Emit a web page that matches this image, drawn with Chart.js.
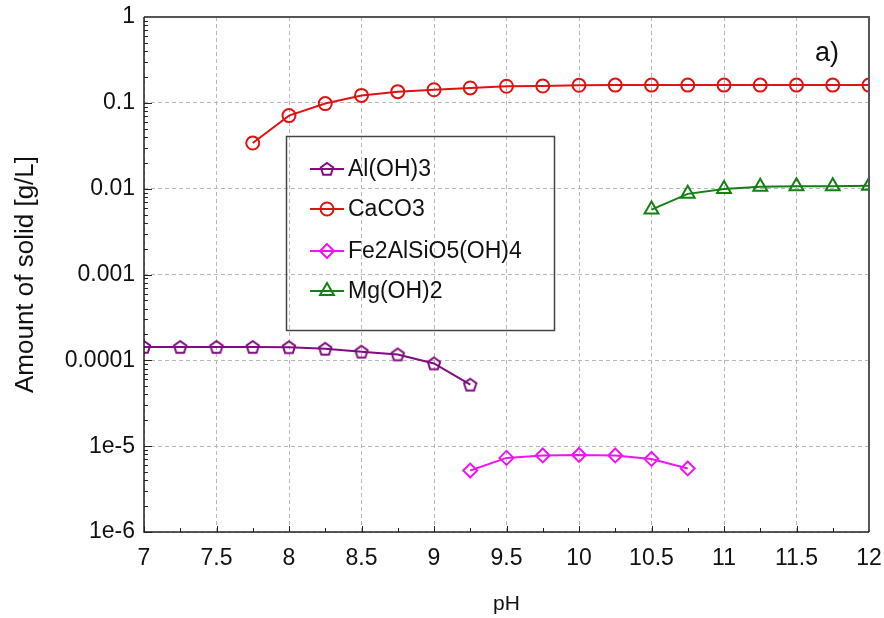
<!DOCTYPE html>
<html>
<head>
<meta charset="utf-8">
<script src="https://cdn.jsdelivr.net/npm/chart.js@4/dist/chart.umd.min.js"></script>
<style>
  html, body { margin: 0; padding: 0; background: #fff; }
  #wrap { width: 884px; height: 618px; }
</style>
</head>
<body>
<div id="wrap"><canvas id="chart" width="884" height="618"></canvas></div>
<script>
// axis ticks
const xTicks = [7, 7.5, 8, 8.5, 9, 9.5, 10, 10.5, 11, 11.5, 12];
const xTickLabels = ['7', '7.5', '8', '8.5', '9', '9.5', '10', '10.5', '11', '11.5', '12'];
const yTicks = [1e-6, 1e-5, 1e-4, 1e-3, 0.01, 0.1, 1];
const yTickLabels = ['1e-6', '1e-5', '0.0001', '0.001', '0.01', '0.1', '1'];

// series (pH vs amount of solid, g/L)
const seriesNames = ['Al(OH)3', 'CaCO3', 'Fe2AlSiO5(OH)4', 'Mg(OH)2'];

const alPH = [7, 7.25, 7.5, 7.75, 8, 8.25, 8.5, 8.75, 9, 9.25];
const alAmount = [1.43e-4, 1.43e-4, 1.43e-4, 1.43e-4, 1.42e-4, 1.36e-4, 1.26e-4, 1.17e-4, 0.92e-4, 0.52e-4];

const caPH = [7.75, 8, 8.25, 8.5, 8.75, 9, 9.25, 9.5, 9.75, 10, 10.25, 10.5, 10.75, 11, 11.25, 11.5, 11.75, 12];
const caAmount = [0.034, 0.071, 0.098, 0.122, 0.135, 0.142, 0.149, 0.156, 0.157, 0.16, 0.161, 0.161, 0.161, 0.161, 0.161, 0.161, 0.161, 0.161];

const fePH = [9.25, 9.5, 9.75, 10, 10.25, 10.5, 10.75];
const feAmount = [5.2e-6, 7.3e-6, 7.8e-6, 7.9e-6, 7.8e-6, 7.1e-6, 5.5e-6];

const mgPH = [10.5, 10.75, 11, 11.25, 11.5, 11.75, 12];
const mgAmount = [0.0057, 0.0087, 0.0099, 0.0105, 0.0107, 0.0107, 0.0108];

const FONT = "'Liberation Sans', Arial, sans-serif";
const colors = ['#800c80', '#e01212', '#ee16ee', '#128012'];

function toPoints(xs, ys) {
  return xs.map((x, i) => ({ x: x, y: ys[i] }));
}

// pentagon marker (not built into Chart.js)
function makePentagon(color) {
  const c = document.createElement('canvas');
  c.width = 18;
  c.height = 18;
  const g = c.getContext('2d');
  g.strokeStyle = color;
  g.lineWidth = 2;
  g.beginPath();
  for (let i = 0; i < 5; i++) {
    const a = -Math.PI / 2 + i * 2 * Math.PI / 5;
    const px = 9 + 6.5 * Math.cos(a);
    const py = 9.5 + 6.5 * Math.sin(a);
    if (i === 0) g.moveTo(px, py); else g.lineTo(px, py);
  }
  g.closePath();
  g.stroke();
  return c;
}
const pentagon = makePentagon(colors[0]);

const pointStyles = [pentagon, 'circle', 'rectRot', 'triangle'];
const pointRadii = [7, 6.5, 7, 8];

function dataset(i, xs, ys) {
  return {
    label: seriesNames[i],
    data: toPoints(xs, ys),
    borderColor: colors[i],
    backgroundColor: 'rgba(0,0,0,0)',
    borderWidth: 2,
    pointStyle: pointStyles[i],
    pointRadius: pointRadii[i],
    pointBorderWidth: 2,
    pointBorderColor: colors[i],
    pointBackgroundColor: 'rgba(0,0,0,0)',
    tension: 0
  };
}

// frame around plot + inward ticks
const frameAndTicks = {
  id: 'frameAndTicks',
  afterDraw(chart) {
    const { ctx, chartArea: a, scales } = chart;
    const x = scales.x, y = scales.y;
    ctx.save();
    ctx.strokeStyle = '#222';
    ctx.lineWidth = 1;
    ctx.beginPath();
    xTicks.forEach((v, i) => {
      const px = Math.round(x.getPixelForValue(v)) + 0.5;
      ctx.moveTo(px, a.bottom);
      ctx.lineTo(px, a.bottom - 6);
      if (i < xTicks.length - 1) {
        const mx = Math.round(x.getPixelForValue((v + xTicks[i + 1]) / 2)) + 0.5;
        ctx.moveTo(mx, a.bottom);
        ctx.lineTo(mx, a.bottom - 4);
      }
    });
    yTicks.forEach((v, i) => {
      const py = Math.round(y.getPixelForValue(v)) + 0.5;
      ctx.moveTo(a.left, py);
      ctx.lineTo(a.left + 8, py);
      if (i < yTicks.length - 1) {
        for (let k = 2; k <= 9; k++) {
          const my = Math.round(y.getPixelForValue(v * k)) + 0.5;
          ctx.moveTo(a.left, my);
          ctx.lineTo(a.left + 4, my);
        }
      }
    });
    ctx.stroke();

    ctx.lineWidth = 2;
    ctx.strokeStyle = '#555';
    ctx.beginPath();
    ctx.moveTo(a.left, a.top);
    ctx.lineTo(a.right, a.top);
    ctx.lineTo(a.right, a.bottom);
    ctx.stroke();
    ctx.lineWidth = 1.5;
    ctx.strokeStyle = '#222';
    ctx.beginPath();
    ctx.moveTo(a.left, a.top);
    ctx.lineTo(a.left, a.bottom);
    ctx.lineTo(a.right, a.bottom);
    ctx.stroke();

    // panel label
    ctx.fillStyle = '#111';
    ctx.font = '27px ' + FONT;
    ctx.textAlign = 'center';
    ctx.textBaseline = 'middle';
    ctx.fillText('a)', 827, 54);
    ctx.restore();
  }
};

// boxed legend inside the plot
const boxLegend = {
  id: 'boxLegend',
  afterDraw(chart) {
    const ctx = chart.ctx;
    const rowY = [169, 209, 251, 291];
    ctx.save();
    ctx.strokeStyle = '#444';
    ctx.lineWidth = 1.5;
    ctx.strokeRect(286.5, 136.5, 268, 194);
    chart.data.datasets.forEach((ds, i) => {
      const yy = rowY[i];
      ctx.strokeStyle = ds.borderColor;
      ctx.lineWidth = 2;
      ctx.beginPath();
      ctx.moveTo(310, yy);
      ctx.lineTo(344, yy);
      ctx.stroke();
      ctx.fillStyle = 'rgba(0,0,0,0)';
      Chart.helpers.drawPoint(ctx, {
        pointStyle: ds.pointStyle,
        radius: ds.pointRadius,
        borderWidth: 2,
        rotation: 0
      }, 327, yy);
      ctx.fillStyle = '#111';
      ctx.font = '23px ' + FONT;
      ctx.textAlign = 'left';
      ctx.textBaseline = 'middle';
      ctx.fillText(ds.label, 348, yy + 1);
    });
    ctx.restore();
  }
};

const ctx = document.getElementById('chart').getContext('2d');
const chart = new Chart(ctx, {
  type: 'line',
  data: {
    datasets: [
      dataset(0, alPH, alAmount),
      dataset(1, caPH, caAmount),
      dataset(2, fePH, feAmount),
      dataset(3, mgPH, mgAmount)
    ]
  },
  options: {
    responsive: false,
    animation: false,
    layout: { padding: { top: 17, right: 15, bottom: 0, left: 0 } },
    plugins: {
      legend: { display: false },
      tooltip: { enabled: false }
    },
    scales: {
      x: {
        type: 'linear',
        min: 7,
        max: 12,
        afterBuildTicks: scale => { scale.ticks = xTicks.map(v => ({ value: v })); },
        afterFit: scale => {
          scale.height = 86;
          scale.paddingLeft = 0;
          scale.paddingRight = 0;
        },
        grid: { color: '#b8b8b8', lineWidth: 1, drawTicks: false },
        border: { display: false, dash: [4, 3] },
        ticks: {
          autoSkip: false,
          maxRotation: 0,
          padding: 13,
          color: '#111',
          font: { family: FONT, size: 23 },
          callback: (value, index) => xTickLabels[index]
        },
        title: {
          display: true,
          text: 'pH',
          color: '#111',
          font: { family: FONT, size: 21 },
          padding: { top: 0, bottom: 1 }
        }
      },
      y: {
        type: 'logarithmic',
        min: 1e-6,
        max: 1,
        afterBuildTicks: scale => { scale.ticks = yTicks.map(v => ({ value: v })); },
        afterFit: scale => {
          scale.width = 144;
          scale.paddingTop = 0;
          scale.paddingBottom = 0;
        },
        grid: { color: '#b8b8b8', lineWidth: 1, drawTicks: false },
        border: { display: false, dash: [4, 3] },
        ticks: {
          autoSkip: false,
          padding: 9,
          color: '#111',
          font: { family: FONT, size: 23 },
          callback: (value, index) => yTickLabels[index]
        },
        title: {
          display: true,
          text: 'Amount of solid [g/L]',
          color: '#111',
          font: { family: FONT, size: 26 },
          padding: { top: 10, bottom: 0 }
        }
      }
    }
  },
  plugins: [frameAndTicks, boxLegend]
});
</script>
</body>
</html>
